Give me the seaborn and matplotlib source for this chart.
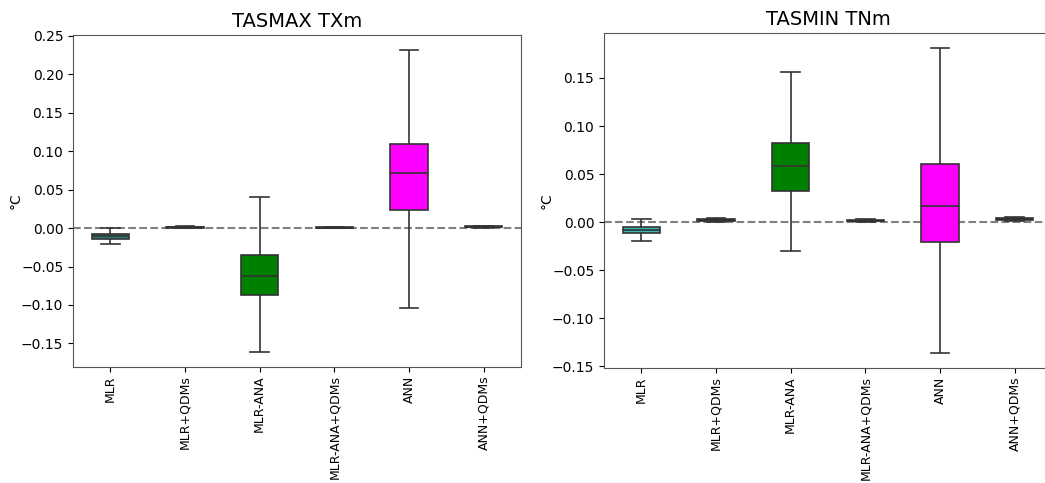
import matplotlib
matplotlib.use("Agg")
import matplotlib.pyplot as plt
import pandas as pd
import seaborn as sns

models = ["MLR", "MLR+QDMs", "MLR-ANA", "MLR-ANA+QDMs", "ANN", "ANN+QDMs"]

# five-number summaries (min, Q1, median, Q3, max) of the bias, in °C
tasmax_mlr = [-0.021, -0.0138, -0.0105, -0.0073, 0.0]
tasmax_mlr_qdm = [0.0, 0.0005, 0.001, 0.0018, 0.0025]
tasmax_mlr_ana = [-0.161, -0.0866, -0.0622, -0.0352, 0.0405]
tasmax_mlr_ana_qdm = [-0.0005, 0.0, 0.0005, 0.0012, 0.002]
tasmax_ann = [-0.1036, 0.0239, 0.0722, 0.1097, 0.2315]
tasmax_ann_qdm = [0.0, 0.0008, 0.0015, 0.0022, 0.003]

tasmin_mlr = [-0.0199, -0.0118, -0.0087, -0.0053, 0.0028]
tasmin_mlr_qdm = [0.0005, 0.0012, 0.002, 0.003, 0.0038]
tasmin_mlr_ana = [-0.0303, 0.0324, 0.0586, 0.0826, 0.156]
tasmin_mlr_ana_qdm = [0.0005, 0.001, 0.0015, 0.0025, 0.003]
tasmin_ann = [-0.136, -0.0209, 0.0167, 0.0607, 0.181]
tasmin_ann_qdm = [0.001, 0.002, 0.003, 0.004, 0.005]

tasmax_colors = ["#2f7d78", "#111111", "#008000", "#111111", "#ff00ff", "#111111"]
tasmin_colors = ["#3cb5b8", "#111111", "#008000", "#111111", "#ff00ff", "#111111"]


def long_frame(series):
    rows = []
    for name, vals in zip(models, series):
        for v in vals:
            rows.append({"model": name, "bias": v})
    return pd.DataFrame(rows)


tasmax_df = long_frame([tasmax_mlr, tasmax_mlr_qdm, tasmax_mlr_ana,
                        tasmax_mlr_ana_qdm, tasmax_ann, tasmax_ann_qdm])
tasmin_df = long_frame([tasmin_mlr, tasmin_mlr_qdm, tasmin_mlr_ana,
                        tasmin_mlr_ana_qdm, tasmin_ann, tasmin_ann_qdm])

fig = plt.figure(figsize=(10.45, 4.83), dpi=100)
ax1 = fig.add_axes([0.0699, 0.2402, 0.4287, 0.6874])
ax2 = fig.add_axes([0.578, 0.2381, 0.4287, 0.6936])

panels = [
    (ax1, tasmax_df, tasmax_colors, "TASMAX TXm"),
    (ax2, tasmin_df, tasmin_colors, "TASMIN TNm"),
]

for ax, df, colors, title in panels:
    sns.boxplot(
        data=df, x="model", y="bias", hue="model", order=models,
        hue_order=models, palette=colors, legend=False, ax=ax,
        width=0.5, whis=(0, 100), saturation=1, linecolor="#333333",
        linewidth=1.2, showfliers=False,
    )
    ax.axhline(0, color="gray", linestyle="--", linewidth=1.5, zorder=0)
    ax.set_title(title, fontsize=14)
    ax.set_xlabel("")
    ax.set_ylabel("°C", fontsize=10, labelpad=-1)
    ax.tick_params(axis="x", labelrotation=90, labelsize=9.0, pad=2.5)
    for spine in ax.spines.values():
        spine.set_color("#555555")

fig.savefig("out.png", dpi=100)
